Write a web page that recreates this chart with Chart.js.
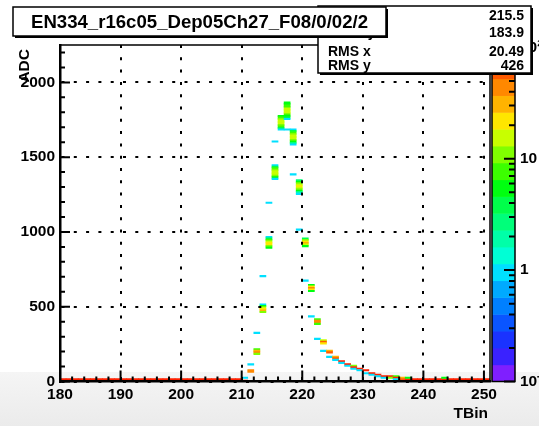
<!DOCTYPE html>
<html>
<head>
<meta charset="utf-8">
<script src="https://cdn.jsdelivr.net/npm/chart.js@4.4.1/dist/chart.umd.min.js"></script>
<style>
  html, body { margin: 0; padding: 0; background: #ffffff; }
  canvas { display: block; }
</style>
</head>
<body>
<canvas id="hist" width="539" height="426"></canvas>
<script>
// ---- histogram content -------------------------------------------------
const histTitle = 'EN334_r16c05_Dep05Ch27_F08/0/02/2';
const statLabels = ['Mean x', 'Mean y', 'RMS x', 'RMS y'];
const statValues = ['215.5', '183.9', '20.49', '426'];

const xTickValues = [180, 190, 200, 210, 220, 230, 240, 250];
const yTickValues = [0, 500, 1000, 1500, 2000];
const zTickValues = [0.1, 1, 10, 100];
const zTickLabels = ['10\u207B\u00B9', '1', '10', '10\u00B2'];

const adcBinWidth = 10;

// pedestal-only time bins: entries in the ADC bin starting at pedestalADC
const pedestalADC = 10;
const pedestalTBin = [
  180, 181, 182, 183, 184, 185, 186, 187, 188, 189,
  190, 191, 192, 193, 194, 195, 196, 197, 198, 199,
  200, 201, 202, 203, 204, 205, 206, 207, 208, 209,
  238, 239, 240, 241, 242, 243, 244, 245, 246, 247, 248, 249, 250
];
const pedestalCount = [
  92, 91, 93, 92, 90, 92, 94, 91, 92, 93,
  92, 90, 91, 93, 92, 92, 91, 94, 92, 90,
  93, 92, 91, 92, 93, 90, 92, 91, 93, 92,
  88, 90, 91, 92, 90, 86, 92, 91, 93, 92, 90, 91, 92
];

// pulse cells: time bin, ADC bin lower edge, entries
const pulseTBin = [
  210, 210,
  211, 211, 211,
  212, 212, 212, 212, 212,
  213, 213, 213, 213, 213, 213, 213,
  214, 214, 214, 214, 214, 214, 214, 214, 214,
  215, 215, 215, 215, 215, 215, 215, 215, 215, 215, 215,
  216, 216, 216, 216, 216, 216, 216, 216, 216, 216,
  217, 217, 217, 217, 217, 217, 217, 217, 217, 217, 217, 217, 217,
  218, 218, 218, 218, 218, 218, 218, 218, 218, 218, 218, 218,
  219, 219, 219, 219, 219, 219, 219, 219, 219, 219, 219,
  220, 220, 220, 220, 220, 220, 220,
  221, 221, 221, 221, 221, 221,
  222, 222, 222, 222, 222,
  223, 223, 223, 223,
  224, 224, 224,
  225, 225, 225,
  226, 226,
  227, 227,
  228, 228, 228,
  229, 229,
  230, 230,
  231, 231,
  232, 232,
  233, 233,
  234, 234,
  235, 235, 235,
  236, 236,
  237, 237,
  243
];
const pulseADC = [
  0, 20,
  110, 70, 60,
  320, 210, 200, 190, 180,
  700, 510, 500, 490, 480, 470, 460,
  1190, 960, 950, 940, 930, 920, 910, 900, 890,
  1600, 1440, 1430, 1420, 1410, 1400, 1390, 1380, 1370, 1360, 1350,
  1770, 1760, 1750, 1740, 1730, 1720, 1710, 1700, 1690, 1680,
  1860, 1850, 1840, 1830, 1820, 1810, 1800, 1790, 1780, 1770, 1760, 1750, 1680,
  1680, 1670, 1660, 1650, 1640, 1630, 1620, 1610, 1600, 1590, 1580, 1380,
  1340, 1330, 1320, 1310, 1300, 1290, 1280, 1270, 1260, 1250, 1010,
  950, 940, 930, 920, 910, 900, 670,
  640, 630, 620, 610, 600, 430,
  410, 400, 390, 380, 280,
  270, 260, 250, 200,
  200, 190, 160,
  160, 150, 140,
  130, 120,
  110, 100,
  100, 90, 80,
  80, 70,
  70, 50,
  50, 40,
  40, 30,
  30, 20,
  30, 20,
  30, 20, 10,
  20, 10,
  10, 20,
  20
];
const pulseCount = [
  93, 1,
  1, 44, 50,
  1, 8, 30, 45, 10,
  1, 1, 5, 14, 22, 35, 12,
  1, 1, 4, 8, 18, 22, 20, 12, 6,
  1, 1, 4, 7, 12, 17, 18, 15, 10, 5, 1,
  5, 7, 10, 15, 18, 18, 12, 7, 4, 1,
  5, 6, 7, 9, 14, 18, 18, 15, 8, 6, 4, 1, 1,
  1, 4, 7, 12, 16, 18, 16, 10, 6, 3, 1, 1,
  3, 6, 12, 18, 20, 15, 10, 5, 2, 1, 1,
  4, 12, 25, 30, 15, 5, 1,
  6, 20, 40, 25, 6, 1,
  8, 40, 38, 8, 1,
  15, 55, 20, 1,
  35, 55, 1,
  30, 60, 1,
  85, 1,
  85, 1,
  10, 80, 1,
  85, 1,
  85, 1,
  85, 1,
  85, 1,
  85, 1,
  80, 10,
  8, 80, 1,
  30, 60,
  85, 5,
  6
];

// ---- colour scale (log z, 20 contour levels) ----------------------------
const zMin = 0.1, zMax = 105, nLevels = 20;
const palette = [
  '#7f1fff', '#3a22ff', '#1a33ff', '#0a55ff', '#0080ff',
  '#00aaff', '#00e0ff', '#00ffd5', '#00ffa8', '#00ff7a',
  '#00ff4a', '#00ff10', '#3cff00', '#80ff00', '#c8ff00',
  '#ffe600', '#ffb300', '#ff8800', '#ff5a00', '#ff2000'
];
function levelIndex(n) {
  const f = (Math.log10(n) - Math.log10(zMin)) / (Math.log10(zMax) - Math.log10(zMin));
  return Math.max(0, Math.min(nLevels - 1, Math.floor(f * nLevels)));
}

// one floating bar per filled cell
const cellPoints = [];
const cellColors = [];
function addCell(tbin, adc, n) {
  cellPoints.push({ x: tbin + 0.5, y: [adc, adc + adcBinWidth] });
  cellColors.push(palette[levelIndex(n)]);
}
pedestalTBin.forEach((t, i) => addCell(t, pedestalADC, pedestalCount[i]));
pulseTBin.forEach((t, i) => addCell(t, pulseADC[i], pulseCount[i]));

const FONT = '"Liberation Sans", Arial, Helvetica, sans-serif';
const tickFont = { family: FONT, size: 15.5, weight: 'bold' };

// ---- ROOT-style decorations --------------------------------------------
const rootDecor = {
  id: 'rootDecor',
  beforeDraw(chart) {
    const { ctx, width, height } = chart;
    ctx.save();
    ctx.fillStyle = '#ffffff';
    ctx.fillRect(0, 0, width, height);
    const g = ctx.createLinearGradient(0, 372, 0, height);
    g.addColorStop(0, '#f5f5f5');
    g.addColorStop(1, '#ebebeb');
    ctx.fillStyle = g;
    ctx.fillRect(0, 372, width, height - 372);
    ctx.restore();
  },
  afterDatasetsDraw(chart) {
    // palette bar on the z axis
    const zs = chart.scales.z;
    const { ctx } = chart;
    const x0 = zs.left + 2, x1 = zs.left + 25;
    const lmin = Math.log10(zMin), lmax = Math.log10(zMax);
    ctx.save();
    for (let k = 0; k < nLevels; k++) {
      const yb = zs.getPixelForValue(Math.pow(10, lmin + (lmax - lmin) * k / nLevels));
      const yt = zs.getPixelForValue(Math.pow(10, lmin + (lmax - lmin) * (k + 1) / nLevels));
      ctx.fillStyle = palette[k];
      ctx.fillRect(x0, yt, x1 - x0, yb - yt + 0.5);
    }
    ctx.restore();
  },
  afterDraw(chart) {
    const { ctx, chartArea: ca } = chart;
    const xs = chart.scales.x, ys = chart.scales.y, zs = chart.scales.z;
    ctx.save();
    ctx.strokeStyle = '#000';
    ctx.lineCap = 'butt';

    // frame top and right
    ctx.lineWidth = 1.5;
    ctx.beginPath();
    ctx.moveTo(ca.left, ca.top); ctx.lineTo(ca.right, ca.top);
    ctx.moveTo(ca.right, ca.top); ctx.lineTo(ca.right, ca.bottom);
    ctx.stroke();

    // inward ticks on x
    ctx.lineWidth = 2;
    ctx.beginPath();
    for (let v = xs.min; v <= xs.max + 1e-9; v += 2) {
      const px = xs.getPixelForValue(v);
      const len = (v % 10 === 0) ? 11 : 5;
      ctx.moveTo(px, ca.bottom); ctx.lineTo(px, ca.bottom - len);
    }
    // inward ticks on y
    for (let v = 0; v <= ys.max + 1e-9; v += 100) {
      const py = ys.getPixelForValue(v);
      const len = (v % 500 === 0) ? 10 : 5;
      ctx.moveTo(ca.left, py); ctx.lineTo(ca.left + len, py);
    }
    ctx.stroke();

    // palette frame and ticks
    const bx0 = zs.left + 2, bx1 = zs.left + 25;
    ctx.lineWidth = 1.5;
    ctx.strokeRect(bx0, ca.top, bx1 - bx0, ca.bottom - ca.top);
    ctx.lineWidth = 2;
    ctx.beginPath();
    for (let d = -1; d <= 2; d++) {
      for (let m = 1; m <= 9; m++) {
        const v = m * Math.pow(10, d);
        if (v < zMin * 0.999 || v > zMax) continue;
        const py = zs.getPixelForValue(v);
        const len = m === 1 ? 11 : 6;
        ctx.moveTo(bx1, py); ctx.lineTo(bx1 - len, py);
      }
    }
    ctx.stroke();

    // axis titles
    ctx.fillStyle = '#000';
    ctx.font = 'bold 15.5px ' + FONT;
    ctx.textBaseline = 'middle';
    ctx.textAlign = 'right';
    ctx.fillText('TBin', 488, 414);
    ctx.save();
    ctx.translate(25, 49);
    ctx.rotate(-Math.PI / 2);
    ctx.textAlign = 'right';
    ctx.fillText('ADC', 0, 0);
    ctx.restore();

    // statistics box
    const sx = 318, sy = 6, sw = 213, sh = 67;
    ctx.fillStyle = '#000';
    ctx.fillRect(sx + 2, sy + 2, sw, sh);
    ctx.fillStyle = '#fff';
    ctx.fillRect(sx, sy, sw, sh);
    ctx.lineWidth = 1.5;
    ctx.strokeRect(sx, sy, sw, sh);
    ctx.fillStyle = '#000';
    ctx.font = 'bold 14px ' + FONT;
    const rowY = [16.5, 33.5, 52, 66.5];
    statLabels.forEach((lab, i) => {
      ctx.textAlign = 'left';
      ctx.fillText(lab, sx + 10, rowY[i]);
      ctx.textAlign = 'right';
      ctx.fillText(statValues[i], sx + sw - 7, rowY[i]);
    });

    // title box
    const tx = 13, ty = 7, tw = 373, th = 29;
    ctx.fillStyle = '#000';
    ctx.fillRect(tx + 2, ty + 2, tw, th);
    ctx.fillStyle = '#fff';
    ctx.fillRect(tx, ty, tw, th);
    ctx.lineWidth = 1.5;
    ctx.strokeRect(tx, ty, tw, th);
    ctx.fillStyle = '#000';
    ctx.font = 'bold 18.6px ' + FONT;
    ctx.textAlign = 'center';
    ctx.fillText(histTitle, tx + tw / 2, ty + th / 2 + 1);

    ctx.restore();
  }
};

new Chart(document.getElementById('hist'), {
  type: 'bar',
  data: {
    datasets: [{
      data: cellPoints,
      backgroundColor: cellColors,
      borderWidth: 0,
      barPercentage: 1,
      categoryPercentage: 1,
      xAxisID: 'x',
      yAxisID: 'y'
    }]
  },
  options: {
    responsive: false,
    animation: false,
    events: [],
    layout: { padding: { left: 0, right: 0, top: 45, bottom: 14.5 } },
    plugins: {
      legend: { display: false },
      tooltip: { enabled: false },
      title: { display: false }
    },
    scales: {
      x: {
        type: 'linear', position: 'bottom', min: 180, max: 251, offset: false,
        afterFit: (s) => { s.height = 30; },
        afterBuildTicks: (s) => { s.ticks = xTickValues.map(v => ({ value: v })); },
        ticks: { font: tickFont, color: '#000', padding: 4, maxRotation: 0, autoSkip: false,
                 callback: (v) => String(v) },
        grid: { color: '#000', lineWidth: 2, drawTicks: false, offset: false, z: 1 },
        border: { display: true, color: '#000', width: 2.5, dash: [3, 9.3], z: 1 }
      },
      y: {
        type: 'linear', position: 'left', min: 0, max: 2250,
        afterFit: (s) => { s.width = 60; },
        afterBuildTicks: (s) => { s.ticks = yTickValues.map(v => ({ value: v })); },
        ticks: { font: tickFont, color: '#000', padding: 5, autoSkip: false,
                 callback: (v) => String(v) },
        grid: { color: '#000', lineWidth: 2, drawTicks: false, z: 1 },
        border: { display: true, color: '#000', width: 2.5, dash: [3, 9.3], z: 1 }
      },
      z: {
        type: 'logarithmic', position: 'right', min: zMin, max: zMax,
        afterFit: (s) => { s.width = 49; },
        afterBuildTicks: (s) => { s.ticks = zTickValues.map(v => ({ value: v })); },
        ticks: { font: tickFont, color: '#000', padding: 30, autoSkip: false,
                 callback: (v, i) => zTickLabels[i] },
        grid: { display: false, drawTicks: false },
        border: { display: false }
      }
    }
  },
  plugins: [rootDecor]
});
</script>
</body>
</html>
